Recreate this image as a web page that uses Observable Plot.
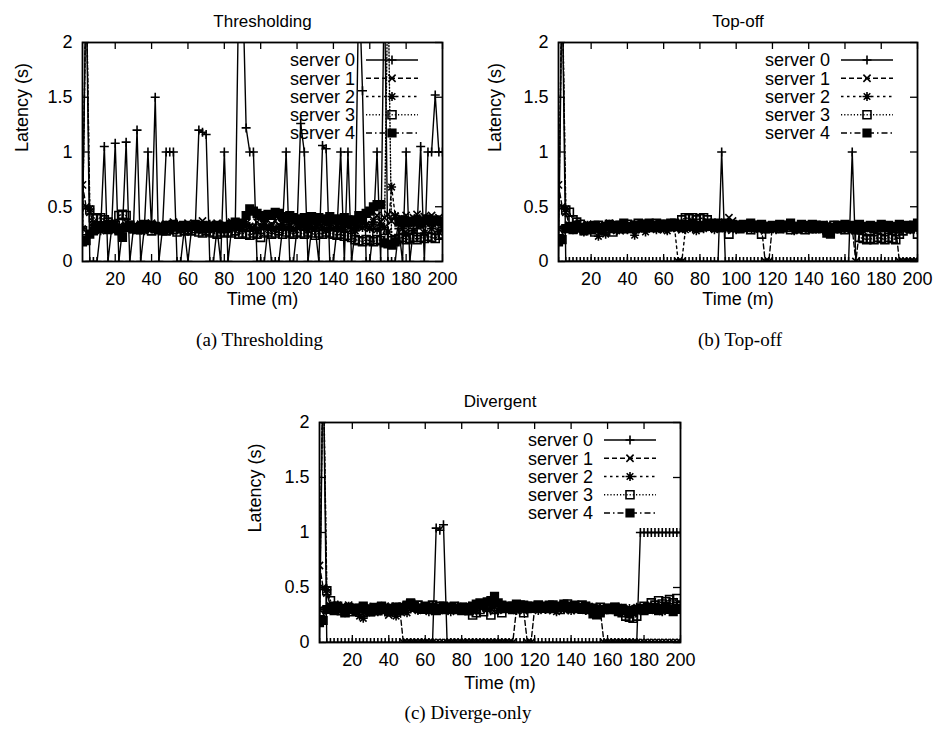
<!DOCTYPE html>
<html>
<head>
<meta charset="utf-8">
<script src="https://cdn.jsdelivr.net/npm/d3@7"></script>
<script src="https://cdn.jsdelivr.net/npm/@observablehq/plot@0.6"></script>
<style>
  html, body { margin: 0; padding: 0; background: #fff; }
  #page { position: relative; width: 934px; height: 740px; background: #fff; overflow: hidden; }
  #page svg { position: absolute; }
</style>
</head>
<body>
<div id="page"></div>
<script>
// ---- shared axes / categories ----
const times = [2,4,6,8,10,12,14,16,18,20,22,24,26,28,30,32,34,36,38,40,
42,44,46,48,50,52,54,56,58,60,62,64,66,68,70,72,74,76,78,80,
82,84,86,88,90,92,94,96,98,100,102,104,106,108,110,112,114,116,118,120,
122,124,126,128,130,132,134,136,138,140,142,144,146,148,150,152,154,156,158,160,
162,164,166,168,170,172,174,176,178,180,182,184,186,188,190,192,194,196,198,200];
const xTicks = [20,40,60,80,100,120,140,160,180,200];
const yTicks = [0,0.5,1,1.5,2];
const seriesNames = ["server 0","server 1","server 2","server 3","server 4"];
const panelTitles = ["Thresholding","Top-off","Divergent"];
const panelCaptions = ["(a) Thresholding","(b) Top-off","(c) Diverge-only"];
const xLabel = "Time (m)";
const yLabel = "Latency (s)";

// ---- (a) Thresholding: latency per server, one value every 2 minutes ----
const thr0 = [.30,2.6,0,0,0,.30,1.05,0,.30,1.08,
0,.30,1.09,0,.30,1.20,0,.30,1.0,.30,
1.50,0,.30,1.0,1.0,1.0,0,0,.30,0,
.30,.30,1.20,1.18,1.16,0,0,.30,0,1.0,
0,.30,.30,2.6,2.6,1.22,1.0,1.0,0,0,
0,.30,0,0,0,.30,1.0,0,0,.30,
1.26,1.0,0,.30,.30,0,1.06,1.03,0,0,
.30,1.0,0,1.0,0,.30,2.6,1.56,0,0,
.30,1.0,0,2.6,0,0,0,.30,0,1.0,
0,.30,.30,1.05,0,1.0,1.0,1.52,1.0,1.0];
const thr1 = [.70,.50,.45,.36,.33,.30,.34,.31,.29,.35,
.32,.30,.36,.33,.31,.29,.34,.32,.30,.35,
.31,.33,.30,.34,.32,.36,.31,.33,.30,.35,
.33,.31,.34,.37,.32,.30,.33,.35,.31,.34,
.32,.36,.33,.30,.34,.35,.32,.31,.36,.33,
.35,.32,.34,.37,.33,.35,.31,.34,.36,.33,
.35,.34,.32,.36,.33,.35,.37,.34,.32,.36,
.34,.33,.35,.37,.34,.32,.36,.35,.33,.31,
.38,.42,.36,.40,.43,.37,.41,.39,.36,.42,
.38,.40,.43,.37,.41,.39,.42,.38,.40,.36];
const thr2 = [.30,2.6,.48,.33,.30,.28,.31,.34,.29,.32,
.30,.27,.33,.31,.29,.32,.30,.28,.34,.31,
.29,.32,.30,.33,.28,.31,.34,.30,.32,.29,
.31,.33,.30,.28,.32,.34,.31,.29,.33,.30,
.32,.30,.34,.31,.29,.33,.32,.30,.28,.31,
.33,.30,.32,.29,.31,.34,.30,.32,.29,.31,
.33,.31,.29,.32,.30,.34,.31,.29,.33,.30,
.32,.29,.31,.33,.30,.28,.32,.31,.34,.30,
.36,.29,.33,.31,.27,.68,.42,.38,.30,.25,
.36,.28,.40,.33,.26,.38,.30,.35,.27,.31];
const thr3 = [.28,2.6,.47,.40,.39,.40,.38,.36,.34,.33,
.42,.43,.42,.33,.30,.31,.29,.30,.32,.28,
.30,.29,.31,.28,.30,.29,.27,.30,.28,.29,
.28,.30,.27,.26,.28,.27,.26,.25,.27,.26,
.27,.26,.28,.25,.26,.25,.24,.26,.25,.22,
.26,.27,.25,.26,.28,.25,.27,.26,.25,.27,
.26,.25,.27,.26,.24,.26,.25,.27,.26,.25,
.24,.25,.23,.24,.22,.20,.19,.18,.20,.19,
.18,.20,.19,.21,2.6,.19,.20,.21,.22,.20,
.21,.22,.20,.22,.21,.23,.22,.21,.24,.25];
const thr4 = [.18,.19,.25,.28,.30,.32,.31,.29,.33,.30,
.28,.22,.31,.33,.30,.29,.32,.34,.31,.33,
.32,.30,.28,.33,.31,.34,.32,.30,.33,.31,
.32,.34,.31,.33,.30,.32,.31,.33,.30,.32,
.31,.34,.36,.33,.35,.42,.48,.46,.44,.42,
.40,.43,.42,.45,.44,.41,.39,.42,.40,.38,
.39,.40,.37,.41,.38,.40,.39,.37,.41,.38,
.39,.37,.40,.38,.36,.38,.42,.40,.44,.46,
.50,.52,.52,.17,.16,.15,.18,.36,.38,.35,
.37,.36,.38,.35,.37,.39,.36,.38,.37,.36];

// ---- (b) Top-off ----
const top0 = [0,2.6,0,0,0,0,0,0,0,0,
0,0,0,0,0,0,0,0,0,0,
0,0,0,0,0,0,0,0,0,0,
0,0,0,0,0,0,0,0,0,0,
0,0,0,0,0,1.0,0,0,0,0,
0,0,0,0,0,0,0,0,0,0,
0,0,0,0,0,0,0,0,0,0,
0,0,0,0,0,0,0,0,0,0,
0,1.0,0,0,0,0,0,0,0,0,
0,0,0,0,0,0,0,0,0,0];
const top1 = [.70,.50,.45,.33,.30,.32,.29,.31,.34,.30,
.32,.29,.33,.31,.35,.30,.32,.28,.33,.31,
.30,.33,.31,.29,.32,.34,.30,.31,.33,.29,
.32,.30,.33,.31,.29,.32,.34,.31,.30,.33,
.31,.34,.32,.30,.36,.33,.35,.40,.37,.33,
.32,.34,.31,.33,.30,.32,.31,0,0,.33,
.31,.33,.30,.32,.34,.31,.29,.32,.30,.33,
.31,.29,.32,.30,.33,.31,.29,.32,.30,.31,
.32,.30,0,.29,.31,.30,.32,.29,.31,.30,
.32,.30,.29,.31,0,0,0,0,0,0];
const top2 = [.30,2.6,.48,.32,.29,.34,.30,.27,.33,.31,
.29,.23,.32,.25,.34,.30,.28,.33,.31,.29,
.32,.24,.30,.33,.27,.31,.34,.29,.32,.30,
.28,.33,.31,0,0,.29,.32,.30,.28,.31,
.30,.33,.31,.29,.32,.34,.30,.31,.33,.29,
.31,.33,.30,.32,.29,.31,.33,.30,.32,.31,
.29,.32,.30,.33,.31,.28,.32,.30,.31,.29,
.32,.30,.31,.29,.33,.30,.32,.31,.29,.30,
.31,.29,.32,.30,.28,.31,.30,.32,.29,.31,
.30,.32,.29,.31,.28,.30,.32,.29,.31,.30];
const top3 = [.28,2.6,.47,.45,.38,.36,.34,.30,.32,.29,
.27,.33,.30,.28,.32,.27,.31,.33,.30,.34,
.31,.33,.35,.32,.34,.31,.33,.35,.32,.34,
.33,.35,.32,.34,.38,.40,.39,.40,.38,.39,
.40,.38,.33,.35,.32,.31,.33,.25,.31,.33,
.30,.32,.31,.29,.33,.31,.25,.30,.32,.31,
.32,.30,.33,.31,.29,.32,.30,.31,.29,.32,
.30,.33,.31,.32,.29,.31,.33,.30,.32,.29,
.31,.30,.29,.22,.21,.20,.21,.20,.22,.21,
.20,.22,.21,.20,.25,.28,.31,.30,.33,.25];
const top4 = [.18,.20,.30,.32,.29,.33,.31,.28,.32,.30,
.33,.31,.29,.32,.34,.30,.33,.31,.35,.32,
.30,.33,.31,.34,.32,.35,.33,.31,.34,.32,
.34,.32,.35,.33,.31,.34,.32,.35,.33,.31,
.33,.35,.32,.34,.31,.33,.35,.32,.34,.33,
.31,.34,.32,.35,.33,.31,.34,.32,.30,.33,
.32,.34,.31,.33,.35,.32,.30,.34,.33,.31,
.34,.32,.30,.33,.26,.25,.31,.33,.32,.34,
.31,.33,.30,.34,.32,.31,.33,.30,.32,.34,
.31,.33,.30,.32,.34,.31,.33,.30,.32,.35];

// ---- (c) Divergent ----
const div0 = [0,2.6,0,0,0,0,0,0,0,0,
0,0,0,0,0,0,0,0,0,0,
0,0,0,0,0,0,0,0,0,0,
0,0,1.04,1.02,1.07,0,0,0,0,0,
0,0,0,0,0,0,0,0,0,0,
0,0,0,0,0,0,0,0,0,0,
0,0,0,0,0,0,0,0,0,0,
0,0,0,0,0,0,0,0,0,0,
0,0,0,0,0,0,0,0,1.0,1.0,
1.0,1.0,1.0,1.0,1.0,1.0,1.0,1.0,1.0,1.0];
const div1 = [.70,.50,.45,.33,.30,.32,.29,.31,.34,.30,
.32,.29,.33,.31,.28,.30,.32,.29,.33,.25,
.30,.33,.31,0,0,0,0,0,0,0,
0,0,0,0,0,0,0,0,0,0,
0,0,0,0,0,0,0,0,0,0,
0,0,0,0,.30,.32,.29,0,0,.31,
.33,.30,.32,.31,.29,.33,.31,.30,.32,.29,
.31,.33,.30,.32,.29,.31,.25,.30,0,0,
0,0,0,0,0,0,0,0,0,0,
0,0,0,0,0,0,0,0,0,0];
const div2 = [.30,2.6,.48,.32,.29,.34,.30,.27,.33,.31,
.29,.24,.22,.27,.32,.30,.28,.33,.31,.29,
.32,.24,.30,.33,.27,.31,.34,.29,.32,.30,
.28,.33,.31,.29,.32,.30,.28,.31,.33,.29,
.30,.33,.31,.29,.32,.34,.30,.31,.33,.29,
.31,.33,.30,.32,.29,.31,.33,.30,.32,.31,
.29,.32,.30,.33,.31,.28,.32,.30,.31,.29,
.32,.30,.31,.29,.33,.30,.32,.31,.29,.30,
.31,.29,.32,.30,.28,.31,.30,.32,.29,.31,
.30,.32,.29,.31,.28,.30,.32,.29,.31,.30];
const div3 = [.28,2.6,.47,.38,.33,.31,.29,.27,.30,.28,
.31,.29,.27,.30,.28,.31,.29,.32,.30,.28,
.30,.32,.29,.31,.33,.35,.32,.34,.31,.33,
.32,.34,.31,.33,.30,.32,.31,.33,.30,.32,
.31,.29,.25,.27,.30,.28,.33,.25,.30,.31,
.27,.31,.33,.30,.32,.34,.27,.31,.33,.32,
.34,.32,.33,.31,.34,.32,.30,.33,.35,.32,
.33,.31,.34,.32,.30,.31,.29,.32,.30,.31,
.30,.32,.29,.27,.24,.23,.22,.24,.30,.33,
.32,.36,.34,.38,.35,.37,.39,.36,.40,.34];
const div4 = [.18,.20,.30,.32,.29,.33,.31,.28,.32,.30,
.29,.31,.33,.30,.28,.32,.30,.33,.31,.29,
.31,.29,.32,.30,.34,.36,.33,.31,.30,.32,
.30,.32,.29,.31,.33,.30,.32,.30,.31,.29,
.32,.30,.33,.35,.36,.34,.37,.38,.42,.36,
.34,.32,.31,.33,.35,.32,.34,.33,.31,.32,
.33,.31,.32,.34,.31,.33,.32,.35,.33,.31,
.34,.32,.30,.33,.31,.26,.25,.27,.30,.31,
.30,.32,.28,.31,.29,.26,.28,.30,.31,.29,
.31,.30,.32,.29,.31,.33,.30,.28,.31,.30];

// ---- styles (gnuplot-like point types and dash patterns) ----
const symPlus = {draw(c){const r=4.5;c.moveTo(-r,0);c.lineTo(r,0);c.moveTo(0,-r);c.lineTo(0,r);}};
const symTimes = {draw(c){const r=3.6;c.moveTo(-r,-r);c.lineTo(r,r);c.moveTo(-r,r);c.lineTo(r,-r);}};
const symStar = {draw(c){const r=4.5,q=3.3;c.moveTo(-r,0);c.lineTo(r,0);c.moveTo(0,-r);c.lineTo(0,r);c.moveTo(-q,-q);c.lineTo(q,q);c.moveTo(-q,q);c.lineTo(q,-q);}};
const symBox = {draw(c){const r=4;c.rect(-r,-r,2*r,2*r);}};
const symFBox = {draw(c){const r=3.8;c.rect(-r,-r,2*r,2*r);}};
const styles = [
  {symbol: symPlus, fill: "none", dash: null},
  {symbol: symTimes, fill: "none", dash: "5,3"},
  {symbol: symStar, fill: "none", dash: "2.5,3.5"},
  {symbol: symBox, fill: "none", dash: "1.2,2"},
  {symbol: symFBox, fill: "black", dash: "6,3,1.5,3"}
];

const panels = [
  {series: [thr0,thr1,thr2,thr3,thr4], left: 0, top: 0, width: 467, height: 365,
   ml: 82, mr: 25, mt: 42, mb: 104, ylx: -60, xly: 43, capy: 84, capx: -3},
  {series: [top0,top1,top2,top3,top4], left: 467, top: 0, width: 467, height: 365,
   ml: 91, mr: 17, mt: 42, mb: 104, ylx: -63, xly: 43, capy: 84, capx: 2},
  {series: [div0,div1,div2,div3,div4], left: 232, top: 375, width: 470, height: 365,
   ml: 87, mr: 22, mt: 47, mb: 98, ylx: -64, xly: 46, capy: 76, capx: -32}
];

const page = document.getElementById("page");
const FONT = "'Liberation Sans', Arial, Helvetica, sans-serif";

panels.forEach((p, pi) => {
  const fw = p.width - p.ml - p.mr;
  const fh = p.height - p.mt - p.mb;
  const marks = [];
  // inward gnuplot-style ticks on all four sides
  marks.push(Plot.ruleX(xTicks, {x: d => d, insetTop: fh - 7, stroke: "black", strokeWidth: 1.3}));
  marks.push(Plot.ruleX(xTicks, {x: d => d, insetBottom: fh - 7, stroke: "black", strokeWidth: 1.3}));
  marks.push(Plot.ruleY(yTicks, {y: d => d, insetRight: fw - 7, stroke: "black", strokeWidth: 1.3}));
  marks.push(Plot.ruleY(yTicks, {y: d => d, insetLeft: fw - 7, stroke: "black", strokeWidth: 1.3}));
  p.series.forEach((vals, si) => {
    const st = styles[si];
    const data = times.map((t, i) => ({t, v: vals[i]}));
    marks.push(Plot.line(data, {x: "t", y: "v", stroke: "black", strokeWidth: 1.4,
      strokeDasharray: st.dash || undefined, clip: true}));
    marks.push(Plot.dot(data, {x: "t", y: "v", symbol: st.symbol, r: 4, stroke: "black",
      strokeWidth: 1.6, fill: st.fill, clip: true}));
  });
  marks.push(Plot.frame({stroke: "black", strokeWidth: 1.8}));
  marks.push(Plot.text([panelTitles[pi]], {text: d => d, frameAnchor: "top", dy: -28, fontSize: 17}));
  marks.push(Plot.text([xLabel], {text: d => d, frameAnchor: "bottom", dy: p.xly, fontSize: 18}));
  marks.push(Plot.text([yLabel], {text: d => d, frameAnchor: "left", dx: p.ylx, rotate: -90, fontSize: 18}));
  marks.push(Plot.text([panelCaptions[pi]], {text: d => d, frameAnchor: "bottom", dy: p.capy, dx: p.capx,
    fontSize: 19, fontFamily: "'Liberation Serif', 'Times New Roman', serif"}));

  const svg = Plot.plot({
    width: p.width, height: p.height,
    marginLeft: p.ml, marginRight: p.mr, marginTop: p.mt, marginBottom: p.mb,
    x: {domain: [2, 200], ticks: xTicks, tickSize: 0, tickPadding: 11, label: null, tickFormat: d => String(d)},
    y: {domain: [0, 2], ticks: yTicks, tickSize: 0, tickPadding: 10, label: null, tickFormat: d => String(d)},
    style: {fontFamily: FONT, fontSize: "18px", color: "black", background: "white", overflow: "visible"},
    marks
  });
  svg.style.left = p.left + "px";
  svg.style.top = p.top + "px";

  // key (legend) in the upper right of the frame
  const R = p.width - p.mr, T = p.mt;
  const g = d3.select(svg).append("g").attr("font-family", FONT).attr("font-size", 18);
  seriesNames.forEach((name, si) => {
    const st = styles[si];
    const y = T + 18 + si * 18.25;
    g.append("text").attr("x", R - 87).attr("y", y).attr("dy", "0.35em")
      .attr("text-anchor", "end").attr("fill", "black").text(name);
    g.append("line").attr("x1", R - 76).attr("x2", R - 24).attr("y1", y).attr("y2", y)
      .attr("stroke", "black").attr("stroke-width", 1.4)
      .attr("stroke-dasharray", st.dash || null);
    g.append("path").attr("d", d3.symbol().type(st.symbol)())
      .attr("transform", `translate(${R - 50},${y})`)
      .attr("stroke", "black").attr("stroke-width", 1.6).attr("fill", st.fill);
  });
  page.appendChild(svg);
});
</script>
</body>
</html>
